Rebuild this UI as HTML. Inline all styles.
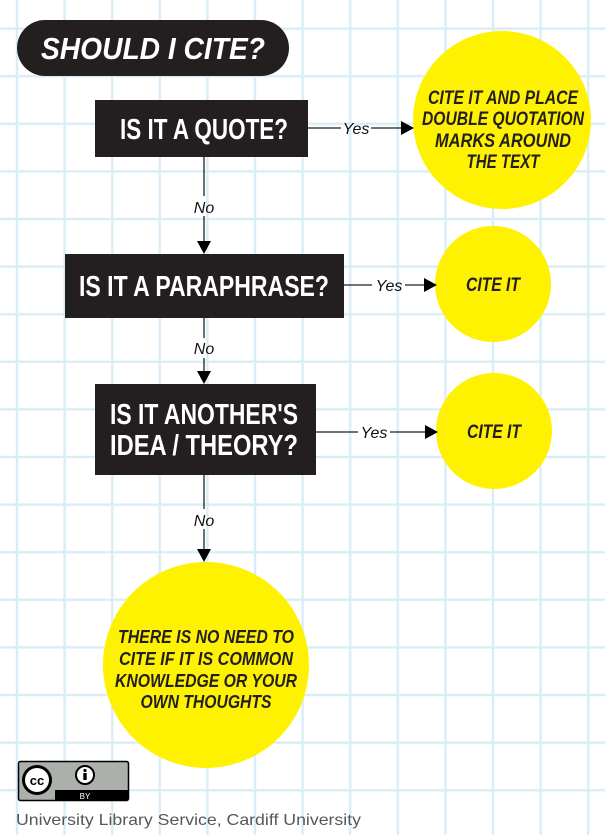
<!DOCTYPE html>
<html><head><meta charset="utf-8"><style>
html,body{margin:0;padding:0;background:#fff}
svg{display:block}
.b{font-family:"Liberation Sans Narrow","Liberation Sans",sans-serif;font-weight:bold}
.i{font-family:"Liberation Sans",sans-serif;font-style:italic}
</style></head><body>
<svg width="605" height="835" viewBox="0 0 605 835" xmlns="http://www.w3.org/2000/svg">
<defs>
<pattern id="g" x="17" y="28.6" width="47.6" height="47.6" patternUnits="userSpaceOnUse">
<rect x="-1.2" y="0" width="2.4" height="47.6" fill="#d9edf6"/>
<rect x="0" y="-1.2" width="47.6" height="2.4" fill="#d9edf6"/>
<rect x="46.4" y="0" width="2.4" height="47.6" fill="#d9edf6"/>
<rect x="0" y="46.4" width="47.6" height="2.4" fill="#d9edf6"/>
</pattern>
</defs>
<rect width="605" height="835" fill="#fff"/>
<rect width="605" height="835" fill="url(#g)"/>

<rect x="17" y="20" width="272" height="56" rx="28" fill="#231f20"/>
<text x="153" y="59" text-anchor="middle" class="b" font-style="italic" font-size="31" fill="#fff" font-family="Liberation Sans" textLength="224" lengthAdjust="spacingAndGlyphs">SHOULD I CITE?</text>

<circle cx="502" cy="120" r="89" fill="#fff200"/>
<circle cx="493" cy="284" r="58" fill="#fff200"/>
<circle cx="494" cy="431" r="58" fill="#fff200"/>
<circle cx="206" cy="665" r="103" fill="#fff200"/>

<rect x="95" y="100" width="213" height="57" fill="#231f20"/>
<text x="204" y="139" text-anchor="middle" class="b" font-size="29" fill="#fff" textLength="168" lengthAdjust="spacingAndGlyphs">IS IT A QUOTE?</text>
<rect x="65" y="254" width="279" height="64" fill="#231f20"/>
<text x="204" y="296" text-anchor="middle" class="b" font-size="29" fill="#fff" textLength="250" lengthAdjust="spacingAndGlyphs">IS IT A PARAPHRASE?</text>
<rect x="95" y="384" width="221" height="91" fill="#231f20"/>
<text x="204" y="424" text-anchor="middle" class="b" font-size="29" fill="#fff" textLength="188" lengthAdjust="spacingAndGlyphs">IS IT ANOTHER'S</text>
<text x="204" y="455" text-anchor="middle" class="b" font-size="29" fill="#fff" textLength="188" lengthAdjust="spacingAndGlyphs">IDEA / THEORY?</text>

<g stroke="#231f20" stroke-width="1.3" fill="none">
<line x1="308" y1="128" x2="341" y2="128"/><line x1="371" y1="128" x2="402" y2="128"/>
<line x1="344" y1="285" x2="372" y2="285"/><line x1="405" y1="285" x2="425" y2="285"/>
<line x1="316" y1="432" x2="358" y2="432"/><line x1="390" y1="432" x2="426" y2="432"/>
<line x1="204" y1="157" x2="204" y2="196"/><line x1="204" y1="216" x2="204" y2="242"/>
<line x1="204" y1="318" x2="204" y2="338"/><line x1="204" y1="358" x2="204" y2="373"/>
<line x1="204" y1="475" x2="204" y2="509"/><line x1="204" y1="529" x2="204" y2="550"/>
</g>
<g fill="#000">
<polygon points="401,121 414,128 401,135"/>
<polygon points="424,278 437,285 424,292"/>
<polygon points="425,425 438,432 425,439"/>
<polygon points="197,241 211,241 204,254"/>
<polygon points="197,371 211,371 204,384"/>
<polygon points="197,549 211,549 204,562"/>
</g>
<g class="i" font-size="16" fill="#111" text-anchor="middle">
<text x="356" y="134">Yes</text>
<text x="389" y="291">Yes</text>
<text x="374" y="438">Yes</text>
<text x="204" y="213">No</text>
<text x="204" y="354">No</text>
<text x="204" y="526">No</text>
</g>

<g class="b" font-style="italic" font-size="19" fill="#231f20" text-anchor="middle">
<text x="503" y="104" textLength="150" lengthAdjust="spacingAndGlyphs">CITE IT AND PLACE</text>
<text x="503" y="125" textLength="162" lengthAdjust="spacingAndGlyphs">DOUBLE QUOTATION</text>
<text x="503" y="147" textLength="136" lengthAdjust="spacingAndGlyphs">MARKS AROUND</text>
<text x="503" y="168" textLength="73" lengthAdjust="spacingAndGlyphs">THE TEXT</text>
<text x="493" y="291" textLength="54" lengthAdjust="spacingAndGlyphs">CITE IT</text>
<text x="494" y="438" textLength="54" lengthAdjust="spacingAndGlyphs">CITE IT</text>
</g>
<g class="b" font-style="italic" font-size="18" fill="#231f20" text-anchor="middle">
<text x="206" y="643" textLength="176" lengthAdjust="spacingAndGlyphs">THERE IS NO NEED TO</text>
<text x="206" y="665" textLength="174" lengthAdjust="spacingAndGlyphs">CITE IF IT IS COMMON</text>
<text x="206" y="687" textLength="182" lengthAdjust="spacingAndGlyphs">KNOWLEDGE OR YOUR</text>
<text x="206" y="708" textLength="131" lengthAdjust="spacingAndGlyphs">OWN THOUGHTS</text>
</g>

<rect x="18.5" y="761.5" width="110" height="39" rx="2" fill="#abb1aa" stroke="#000" stroke-width="1.5"/>
<rect x="55" y="790" width="73" height="10" fill="#000"/>
<text x="85" y="799" text-anchor="middle" font-family="Liberation Sans,sans-serif" font-size="8" fill="#fff">BY</text>
<circle cx="37" cy="780" r="15" fill="#000"/>
<circle cx="37" cy="780" r="12" fill="#fff"/>
<text x="37" y="785" text-anchor="middle" font-family="Liberation Sans,sans-serif" font-weight="bold" font-size="13" fill="#000">cc</text>
<circle cx="85" cy="775" r="9" fill="#fff" stroke="#000" stroke-width="2"/>
<circle cx="85" cy="770.5" r="1.6" fill="#000"/>
<rect x="83.3" y="773" width="3.4" height="7" fill="#000"/>

<text x="16" y="825" font-family="Liberation Sans,sans-serif" font-size="16" fill="#555759" textLength="345" lengthAdjust="spacingAndGlyphs">University Library Service, Cardiff University</text>
</svg>
</body></html>
